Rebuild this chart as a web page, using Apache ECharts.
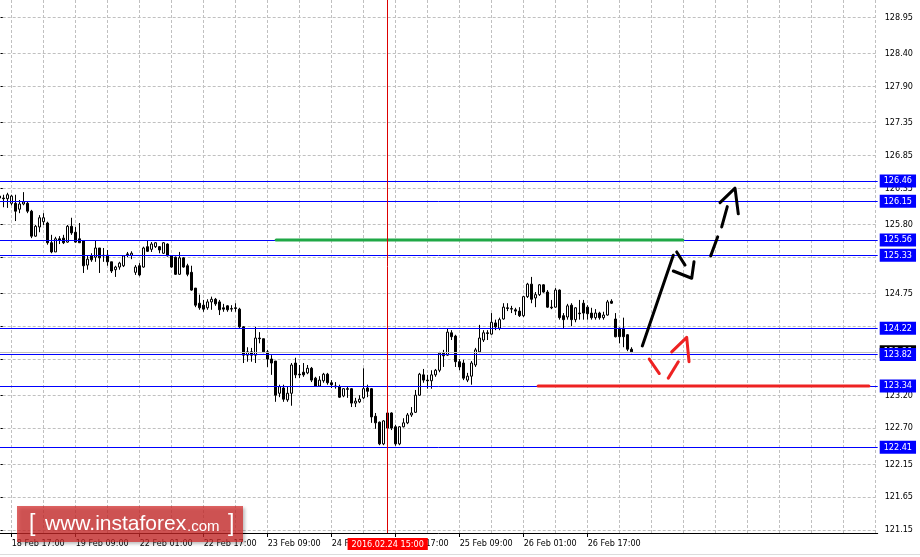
<!DOCTYPE html>
<html><head><meta charset="utf-8">
<script src="https://cdn.jsdelivr.net/npm/echarts@6/dist/echarts.min.js"></script>
<style>html,body{margin:0;padding:0;background:#fff;}#c{width:920px;height:557px;}</style>
</head><body><div id="c"></div>
<script>
// ---------- DATA ----------
const opens = [126.23,126.20,126.19,126.12,126.12,126.03,126.11,126.12,126.00,125.62,125.76,125.84,125.82,125.52,125.38,125.58,125.59,125.53,125.77,125.68,
125.58,125.55,125.18,125.32,125.30,125.44,125.33,125.33,125.23,125.11,125.15,125.17,125.35,125.33,125.07,125.17,125.15,125.46,125.42,125.46,
125.46,125.36,125.50,125.32,125.30,125.04,125.29,125.17,125.07,124.83,124.60,124.57,124.53,124.62,124.66,124.62,124.53,124.56,124.51,124.53,
124.51,124.24,123.81,123.86,123.81,124.07,124.06,123.86,123.75,123.72,123.23,123.31,123.13,123.23,123.69,123.52,123.55,123.54,123.61,123.46,
123.34,123.42,123.52,123.39,123.34,123.33,123.19,123.30,123.30,123.08,123.10,123.16,123.31,123.30,122.88,122.79,122.46,122.70,122.93,122.72,
122.46,122.72,122.78,122.90,122.94,123.20,123.51,123.43,123.42,123.51,123.58,123.84,123.81,124.15,124.10,123.71,123.69,123.43,123.49,123.66,
123.86,124.04,124.15,124.13,124.30,124.22,124.36,124.53,124.51,124.50,124.48,124.41,124.70,124.89,124.68,124.73,124.88,124.77,124.54,124.54,
124.80,124.41,124.39,124.57,124.35,124.45,124.60,124.54,124.45,124.38,124.45,124.38,124.42,124.63,124.36,124.22,124.22,124.12,123.90];
const closes = [126.20,126.19,126.25,126.23,126.00,126.11,126.14,126.00,125.62,125.77,125.90,125.90,125.52,125.38,125.58,125.56,125.52,125.77,125.67,125.53,
125.52,125.17,125.27,125.26,125.44,125.29,125.32,125.23,125.09,125.15,125.21,125.32,125.34,125.36,125.15,125.03,125.44,125.39,125.50,125.52,
125.41,125.52,125.32,125.15,125.04,125.29,125.15,125.04,124.80,124.57,124.53,124.51,124.62,124.66,124.59,124.50,124.51,124.50,124.52,124.52,
124.24,123.81,123.86,123.81,124.07,124.06,123.86,123.75,123.69,123.20,123.33,123.14,123.23,123.66,123.51,123.51,123.51,123.61,123.43,123.34,
123.43,123.52,123.39,123.36,123.33,123.17,123.30,123.29,123.08,123.11,123.14,123.30,123.26,122.87,122.78,122.46,122.81,122.93,122.70,122.46,
122.72,122.78,122.90,122.93,123.20,123.52,123.43,123.42,123.51,123.58,123.84,123.80,124.16,124.09,123.71,123.63,123.46,123.49,123.69,123.89,
124.07,124.15,124.14,124.31,124.24,124.35,124.54,124.52,124.52,124.48,124.41,124.70,124.89,124.66,124.73,124.88,124.77,124.54,124.53,124.80,
124.38,124.35,124.56,124.35,124.53,124.44,124.45,124.44,124.38,124.45,124.38,124.42,124.62,124.60,124.09,124.09,124.09,123.90,123.86];
const lows = [126.14,126.06,126.05,126.09,125.85,125.97,126.09,125.97,125.59,125.61,125.68,125.79,125.49,125.36,125.38,125.50,125.50,125.52,125.64,125.52,
125.52,125.06,125.11,125.23,125.23,125.06,125.23,125.17,125.06,125.00,125.11,125.15,125.30,125.27,125.03,125.01,125.14,125.38,125.38,125.44,
125.36,125.35,125.31,125.14,125.03,125.03,125.14,125.01,124.79,124.54,124.50,124.47,124.50,124.50,124.56,124.42,124.47,124.47,124.47,124.47,
124.22,123.69,123.71,123.71,123.69,123.99,123.84,123.63,123.51,123.10,123.17,123.10,123.10,123.04,123.46,123.46,123.48,123.52,123.40,123.33,
123.33,123.39,123.36,123.31,123.30,123.16,123.17,123.16,123.02,123.02,123.08,123.14,123.17,122.78,122.69,122.44,122.44,122.67,122.67,122.43,
122.44,122.71,122.76,122.87,122.93,123.19,123.39,123.30,123.30,123.48,123.55,123.63,123.80,124.04,123.63,123.58,123.43,123.40,123.36,123.63,
123.84,124.01,124.04,124.12,124.19,124.19,124.35,124.48,124.45,124.42,124.39,124.39,124.68,124.60,124.54,124.71,124.76,124.53,124.51,124.53,
124.35,124.21,124.35,124.25,124.31,124.35,124.35,124.35,124.35,124.35,124.35,124.35,124.41,124.59,124.08,123.99,123.93,123.87,123.84];
const highs = [126.35,126.25,126.28,126.25,126.25,126.17,126.29,126.14,126.02,125.79,125.94,125.97,125.84,125.64,125.61,125.62,125.64,125.79,125.90,125.76,
125.82,125.56,125.33,125.36,125.55,125.44,125.44,125.41,125.23,125.17,125.23,125.33,125.38,125.39,125.18,125.21,125.46,125.55,125.53,125.53,
125.47,125.53,125.51,125.33,125.31,125.38,125.30,125.20,125.17,124.83,124.73,124.65,124.66,124.70,124.68,124.65,124.59,124.57,124.57,124.60,
124.53,124.25,123.93,123.92,124.24,124.16,124.06,123.89,123.81,123.72,123.36,123.36,123.33,123.69,123.77,123.66,123.69,123.66,123.63,123.48,
123.49,123.54,123.54,123.43,123.40,123.36,123.31,123.33,123.31,123.16,123.20,123.61,123.36,123.31,122.93,122.80,122.82,122.98,122.94,122.75,
122.73,122.85,122.93,123.02,123.28,123.54,123.60,123.51,123.58,123.60,123.86,123.89,124.22,124.19,124.12,123.75,123.74,123.54,123.72,123.92,
124.27,124.19,124.19,124.45,124.35,124.38,124.60,124.60,124.56,124.53,124.54,124.71,124.91,125.00,124.77,124.89,124.89,124.80,124.65,124.83,
124.81,124.45,124.59,124.60,124.54,124.65,124.65,124.57,124.53,124.51,124.47,124.47,124.65,124.66,124.45,124.23,124.38,124.13,123.93];

const yTicks = [121.15,121.65,122.15,122.70,123.20,123.75,124.25,124.75,125.30,125.80,126.35,126.85,127.35,127.90,128.40,128.95];
const xLabelTimes = ['18 Feb 17:00','19 Feb 09:00','22 Feb 01:00','22 Feb 17:00','23 Feb 09:00','24 Feb 01:00','24 Feb 17:00','25 Feb 09:00','26 Feb 01:00','26 Feb 17:00'];
const levels = [126.46,126.15,125.56,125.33,124.22,123.82,123.34,122.41];
const bidPrice = 123.86;
const crossTime = '24 Feb 15:00';
const crossLabel = '2016.02.24 15:00';
const greenZone = [[69.1,125.56],[170.8,125.56]];
const redZone = [[134.6,123.34],[217.3,123.34]];
const arrowUpSolid = [
  [[160.65,123.95],[168.4,125.33]],
  [[169.25,125.38],[171.33,125.18]],
  [[168.4,125.09],[173.0,124.98],[173.58,125.23]]
];
const arrowUpDashed = [
  [[177.75,125.32],[179.5,125.61]],
  [[180.5,125.76],[181.9,126.07]],
  [[180.08,126.13],[183.83,126.35],[184.65,125.96]]
];
const arrowDownRed = [
  [[162.4,123.75],[164.9,123.53]],
  [[167.15,123.46],[169.65,123.71]],
  [[168.0,123.86],[171.75,124.08],[172.33,123.71]]
];

// ---------- categories (hourly bars, weekdays only) ----------
const N = 220;
const MON = ['Jan','Feb','Mar','Apr','May','Jun','Jul','Aug','Sep','Oct','Nov','Dec'];
const categories = [];
let t = Date.UTC(2016,1,18,14);
while (categories.length < N) {
  const d = new Date(t);
  const wd = d.getUTCDay();
  if (wd !== 0 && wd !== 6) {
    categories.push(d.getUTCDate() + ' ' + MON[d.getUTCMonth()] + ' ' + String(d.getUTCHours()).padStart(2,'0') + ':00');
  }
  t += 3600000;
}
const candles = opens.map((o,i)=>[o, closes[i], lows[i], highs[i]]);
const vGrid = categories.filter((c,i)=> i % 8 === 3);

const FONT = '"DejaVu Sans Condensed", "Liberation Sans", Arial, sans-serif';
const FS = 9;
const labelFn = (i, v) => xLabelTimes.indexOf(v) >= 0;

const series = [];
series.push({
  type:'line', data:[], silent:true, z:1,
  markLine:{ silent:true, symbol:'none', z:1, animation:false,
    label:{show:false},
    lineStyle:{color:'#c0c0c0', type:[3,2], width:1},
    data: yTicks.map(v=>({yAxis:v})).concat(vGrid.map(c=>({xAxis:c})))
  }
});
series.push({
  type:'candlestick', data:candles, barWidth:3, z:2, silent:true,
  itemStyle:{color:'#ffffff', color0:'#000000', borderColor:'#000000', borderColor0:'#000000', borderWidth:1}
});
const levelMarks = [{
  yAxis: bidPrice,
  lineStyle:{color:'#c0c0c0', type:'solid', width:1},
  label:{show:true, position:'end', formatter: bidPrice.toFixed(2), color:'#fff', backgroundColor:'#000', padding:[1,4,0,4], distance:2, fontFamily:FONT, fontSize:FS, lineHeight:12}
}].concat(levels.map(v=>({
  yAxis: v,
  lineStyle:{color:'#0000ff', type:'solid', width:1},
  label:{show:true, position:'end', formatter: v.toFixed(2), color:'#fff', backgroundColor:'#0000ff', padding:[1,4,0,4], distance:2, fontFamily:FONT, fontSize:FS, lineHeight:12}
})));
series.push({
  type:'line', data:[], silent:true, z:5,
  markLine:{silent:true, symbol:'none', z:5, animation:false, data: levelMarks}
});
series.push({
  type:'line', data:[], silent:true, z:7,
  markLine:{silent:true, symbol:'none', z:7, animation:false,
    data:[{xAxis: crossTime,
      lineStyle:{color:'#dd0000', type:'solid', width:1},
      label:{show:true, position:'start', formatter: crossLabel, color:'#fff', backgroundColor:'#ff0000', padding:[1,4,0,4], distance:5, fontFamily:FONT, fontSize:FS, lineHeight:11}
    }]
  }
});
function seg(data, color, width, z){
  return {type:'line', xAxisIndex:1, yAxisIndex:0, data:data, symbol:'none', silent:true, z:z,
    lineStyle:{color:color, width:width, cap:'round', join:'round'}};
}
series.push(seg(greenZone, '#1fa846', 3, 6));
series.push(seg(redZone, '#ee2222', 3, 6));
arrowUpSolid.forEach(s=>series.push(seg(s, '#000000', 3, 8)));
arrowUpDashed.forEach(s=>series.push(seg(s, '#000000', 3, 8)));
arrowDownRed.forEach(s=>series.push(seg(s, '#ee2222', 3, 8)));

const option = {
  animation:false,
  backgroundColor:'#ffffff',
  grid:{left:-2.3, right:42.3, top:0, bottom:24, containLabel:false, outerBoundsMode:'none'},
  xAxis:[{
    type:'category', data:categories, boundaryGap:true,
    axisLine:{show:true, lineStyle:{color:'#000', width:1}},
    axisTick:{show:true, alignWithLabel:true, interval:labelFn, length:4, lineStyle:{color:'#000'}},
    axisLabel:{show:true, interval:labelFn, align:'left', margin:6, color:'#000', fontFamily:FONT, fontSize:FS, hideOverlap:false},
    splitLine:{show:false}
  },{
    type:'value', min:-0.5, max:N-0.5, show:false, splitLine:{show:false}
  }],
  yAxis:{
    type:'value', position:'right', min:121.104, max:129.213,
    axisLine:{show:true, lineStyle:{color:'#000', width:1}},
    axisTick:{show:true, length:4, customValues:yTicks, lineStyle:{color:'#000'}},
    axisLabel:{show:true, customValues:yTicks, formatter:(v)=>Number(v).toFixed(2), margin:7, color:'#000', fontFamily:FONT, fontSize:FS},
    splitLine:{show:false}
  },
  series: series,
  graphic:[
    {type:'rect', shape:{x:0, y:554, width:920, height:1}, style:{fill:'#dcdcdc'}, silent:true, z:50},
    {type:'rect', shape:{x:17, y:506, width:226, height:36}, style:{fill:'rgba(210,40,40,0.72)', shadowBlur:3, shadowOffsetX:2, shadowOffsetY:2, shadowColor:'rgba(0,0,0,0.35)'}, silent:true, z:100},
    {type:'text', x:29, y:525, style:{text:'[', fill:'#fff', font:'23px "Liberation Sans"', verticalAlign:'middle'}, silent:true, z:101},
    {type:'text', x:45, y:524.4, style:{text:'www.instaforex', fill:'#fff', font:'21px "Liberation Sans"', verticalAlign:'middle'}, silent:true, z:101},
    {type:'text', x:187, y:526.5, style:{text:'.com', fill:'#fff', font:'15px "Liberation Sans"', verticalAlign:'middle'}, silent:true, z:101},
    {type:'text', x:228, y:525, style:{text:']', fill:'#fff', font:'23px "Liberation Sans"', verticalAlign:'middle'}, silent:true, z:101}
  ]
};
const chart = echarts.init(document.getElementById('c'));
chart.setOption(option);
</script>
</body></html>
